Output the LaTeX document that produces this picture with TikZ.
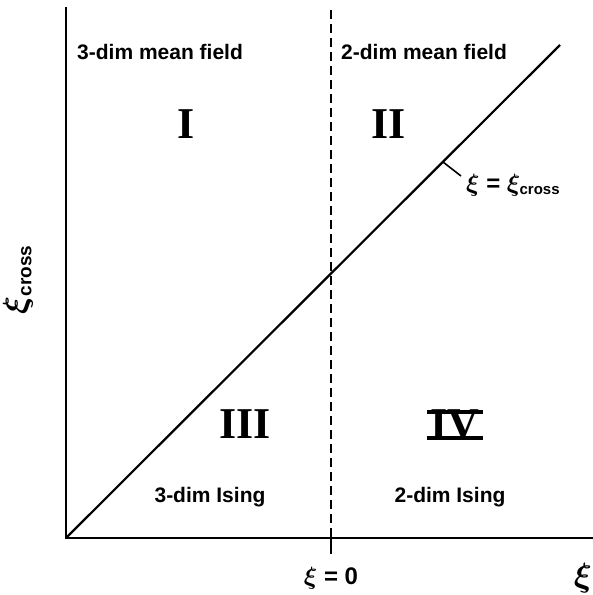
\documentclass[tikz,border=0pt]{standalone}
\usepackage{fontspec}
\setmainfont{Liberation Sans}
\newfontfamily\numfont{Liberation Serif}
\usepackage{graphicx}
\usepackage{tikz}
\usetikzlibrary{positioning}

\newcommand{\bigxi}{\scalebox{1.35}{$\xi$}}

\begin{document}
\begin{tikzpicture}[
    x=1pt, y=-1pt,
    every node/.style={inner sep=0pt, font=\fontsize{21}{23}\selectfont\bfseries\boldmath},
    numeral/.style={font=\fontsize{44}{46}\selectfont\bfseries\numfont},
    axis/.style={line width=2.2pt},
    curve/.style={line width=2.2pt},
    xilabel/.style={font=\fontsize{24}{26}\selectfont\bfseries\boldmath}
]
\useasboundingbox (0,0) rectangle (593,595);
% axes
\coordinate (O) at (66,538);
\coordinate (ytop) at (66,7);
\coordinate (xend) at (593,538);
\draw[axis] (ytop) -- (O) -- (xend);
% xi = 0 line
\coordinate (dtop) at (331,10);
\coordinate (dbot) at (331,538);
\coordinate (tick) at (331,554);
\draw[axis, dash pattern=on 9pt off 5pt] (dtop) -- (dbot);
\draw[axis] (dbot) -- (tick);
% xi = xi_cross
\coordinate (dend) at (560,45);
\draw[curve] (O) -- (dend);
\coordinate (lab) at (443,162);
\coordinate (labend) at (461,176);
\draw[line width=1.6pt] (lab) -- (labend);
\node[anchor=west, xilabel] (cross) at (466,185) {$\xi$ = $\xi_{\textbf{\fontsize{15}{16}\selectfont cross}}$};
% regions
\node[anchor=west] (mf3) at (77,52) {3-dim mean field};
\node[anchor=west] (mf2) at (341,52) {2-dim mean field};
\node[numeral] (r1) at (186,124) {I};
\node[numeral] (r2) at (389,124) {II};
\node[numeral] (r3) at (245,424) {III};
\node[numeral] (r4) at (455,424) {IV};
\draw[line width=3.5pt] ([xshift=-3pt,yshift=-3pt]r4.north west) -- ([xshift=3pt,yshift=-3pt]r4.north east);
\draw[line width=3.5pt] ([xshift=-3pt]r4.base west) -- ([xshift=3pt]r4.base east);
\node (is3) at (210,497) {3-dim Ising};
\node (is2) at (450,497) {2-dim Ising};
% axis labels
\node[xilabel] (x0) at (331,578) {$\xi$ = 0};
\node[xilabel] (xlab) at (583,578) {\bigxi};
\node[xilabel, rotate=90] (ylab) at (18,280) {\bigxi\raisebox{-5pt}{\fontsize{19}{20}\selectfont cross}};
\end{tikzpicture}
\end{document}
